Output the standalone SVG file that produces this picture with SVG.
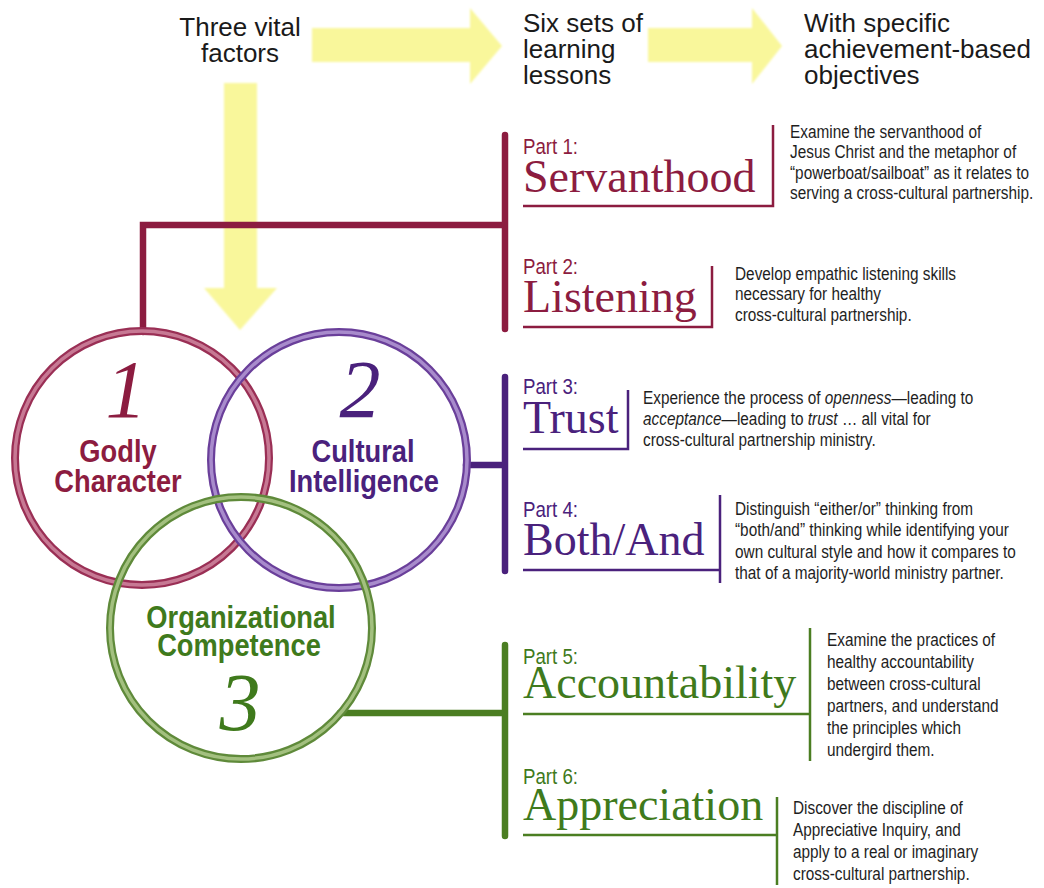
<svg xmlns="http://www.w3.org/2000/svg" width="1044" height="888" viewBox="0 0 1044 888">
<defs>
<filter id="soft" x="-5%" y="-5%" width="110%" height="110%"><feGaussianBlur stdDeviation="0.8"/></filter>
<style>
.yel{fill:#f9f79b;filter:url(#soft)}
.hdr{font-family:"Liberation Sans",Arial,sans-serif;font-size:26px;fill:#1a1a1a}
.part{font-family:"Liberation Sans",Arial,sans-serif;font-size:22px}
.title{font-family:"Liberation Serif","Times New Roman",serif;font-size:46px}
.desc{font-family:"Liberation Sans",Arial,sans-serif;font-size:18.5px;fill:#1e1e1e}
.num{font-family:"Liberation Serif","Times New Roman",serif;font-style:italic;font-size:82px;text-anchor:middle}
.lab{font-family:"Liberation Sans",Arial,sans-serif;font-weight:bold;font-size:31px;text-anchor:middle}
.m{fill:#8c1c40}.p{fill:#4a217c}.g{fill:#3f7a1c}
.thick{fill:none;stroke-width:6.5;stroke-linecap:round}
.thin{fill:none;stroke-width:2.5}
.sm{stroke:#8c1c40}.sp{stroke:#4a217c}.sg{stroke:#4b7e22}
</style>
</defs>
<rect width="1044" height="888" fill="#ffffff"/>

<g id="arrows">
<polygon class="yel" points="312,28 470,28 470,8 502,46 470,84 470,62 312,62"/>
<polygon class="yel" points="648,28 752,28 752,8 782,46 752,84 752,62 648,62"/>
<polygon class="yel" points="224,83 257,83 257,288 277,288 240,330 204,288 224,288"/>
</g>

<g id="headers">
<text class="hdr" x="240" y="36" text-anchor="middle">Three vital</text>
<text class="hdr" x="240" y="62" text-anchor="middle">factors</text>
<text class="hdr" x="523" y="32">Six sets of</text>
<text class="hdr" x="523" y="58">learning</text>
<text class="hdr" x="523" y="84">lessons</text>
<text class="hdr" x="804" y="32">With specific</text>
<text class="hdr" x="804" y="58">achievement-based</text>
<text class="hdr" x="804" y="84">objectives</text>
</g>

<g id="connectors">
<path class="thick sm" d="M143,332 V225 H505 M505,135 V329"/>
<path class="thick sp" d="M466,465 H505 M505,377 V571"/>
<path class="thick sg" d="M340,713 H505 M505,645 V836"/>
</g>

<g id="circle1">
<circle cx="142" cy="458" r="127" fill="none" stroke="#9a2f55" stroke-width="8"/>
<circle cx="142" cy="458" r="127" fill="none" stroke="#c77994" stroke-width="3.5"/>
</g>
<g id="circle2">
<circle cx="339" cy="460" r="128" fill="none" stroke="#6a3f9a" stroke-width="8"/>
<circle cx="339" cy="460" r="128" fill="none" stroke="#a88bcc" stroke-width="3.5"/>
</g>
<g id="circle3">
<circle cx="241" cy="628" r="131" fill="none" stroke="#5f8a3a" stroke-width="8"/>
<circle cx="241" cy="628" r="131" fill="none" stroke="#a3c07f" stroke-width="3.5"/>
</g>

<g id="factor1">
<text class="num m" x="126" y="417">1</text>
<text class="lab m" transform="translate(118,462) scale(0.88,1)">Godly</text>
<text class="lab m" transform="translate(118,492) scale(0.88,1)">Character</text>
</g>
<g id="factor2">
<text class="num p" x="360" y="417">2</text>
<text class="lab p" transform="translate(363,462) scale(0.88,1)">Cultural</text>
<text class="lab p" transform="translate(364,492) scale(0.88,1)">Intelligence</text>
</g>
<g id="factor3">
<text class="lab g" transform="translate(241,628) scale(0.88,1)">Organizational</text>
<text class="lab g" transform="translate(239,656) scale(0.88,1)">Competence</text>
<text class="num g" x="240" y="730">3</text>
</g>

<g id="part1">
<text class="part m" transform="translate(523,154) scale(0.85,1)">Part 1:</text>
<text class="title m" x="523" y="192">Servanthood</text>
<path class="thin sm" d="M523,206 H773 V125"/>
<text class="desc" transform="translate(790,138) scale(0.83,1)"><tspan x="0">Examine the servanthood of</tspan><tspan x="0" dy="20.5">Jesus Christ and the metaphor of</tspan><tspan x="0" dy="20.5">“powerboat/sailboat” as it relates to</tspan><tspan x="0" dy="20.5">serving a cross-cultural partnership.</tspan></text>
</g>

<g id="part2">
<text class="part m" transform="translate(523,274) scale(0.85,1)">Part 2:</text>
<text class="title m" x="523" y="312">Listening</text>
<path class="thin sm" d="M523,327 H712 V266"/>
<text class="desc" transform="translate(735,280) scale(0.83,1)"><tspan x="0">Develop empathic listening skills</tspan><tspan x="0" dy="20.5">necessary for healthy</tspan><tspan x="0" dy="20.5">cross-cultural partnership.</tspan></text>
</g>

<g id="part3">
<text class="part p" transform="translate(523,394) scale(0.85,1)">Part 3:</text>
<text class="title p" x="523" y="433">Trust</text>
<path class="thin sp" d="M523,449 H628 V390"/>
<text class="desc" transform="translate(643,404) scale(0.83,1)"><tspan x="0">Experience the process of <tspan font-style="italic">openness</tspan>—leading to</tspan><tspan x="0" dy="21"><tspan font-style="italic">acceptance</tspan>—leading to <tspan font-style="italic">trust</tspan> … all vital for</tspan><tspan x="0" dy="21">cross-cultural partnership ministry.</tspan></text>
</g>

<g id="part4">
<text class="part p" transform="translate(523,517) scale(0.85,1)">Part 4:</text>
<text class="title p" x="523" y="555">Both/And</text>
<path class="thin sp" d="M523,570 H720 M720,495 V583"/>
<text class="desc" transform="translate(735,515) scale(0.83,1)"><tspan x="0">Distinguish “either/or” thinking from</tspan><tspan x="0" dy="21.5">“both/and” thinking while identifying your</tspan><tspan x="0" dy="21.5">own cultural style and how it compares to</tspan><tspan x="0" dy="21.5">that of a majority-world ministry partner.</tspan></text>
</g>

<g id="part5">
<text class="part g" transform="translate(523,664) scale(0.85,1)">Part 5:</text>
<text class="title g" x="523" y="698">Accountability</text>
<path class="thin sg" d="M523,714 H810 M810,628 V761"/>
<text class="desc" transform="translate(827,646) scale(0.83,1)"><tspan x="0">Examine the practices of</tspan><tspan x="0" dy="22">healthy accountability</tspan><tspan x="0" dy="22">between cross-cultural</tspan><tspan x="0" dy="22">partners, and understand</tspan><tspan x="0" dy="22">the principles which</tspan><tspan x="0" dy="22">undergird them.</tspan></text>
</g>

<g id="part6">
<text class="part g" transform="translate(523,784) scale(0.85,1)">Part 6:</text>
<text class="title g" x="523" y="820">Appreciation</text>
<path class="thin sg" d="M523,835 H777 M777,797 V885"/>
<text class="desc" transform="translate(793,814) scale(0.83,1)"><tspan x="0">Discover the discipline of</tspan><tspan x="0" dy="22">Appreciative Inquiry, and</tspan><tspan x="0" dy="22">apply to a real or imaginary</tspan><tspan x="0" dy="22">cross-cultural partnership.</tspan></text>
</g>
</svg>
